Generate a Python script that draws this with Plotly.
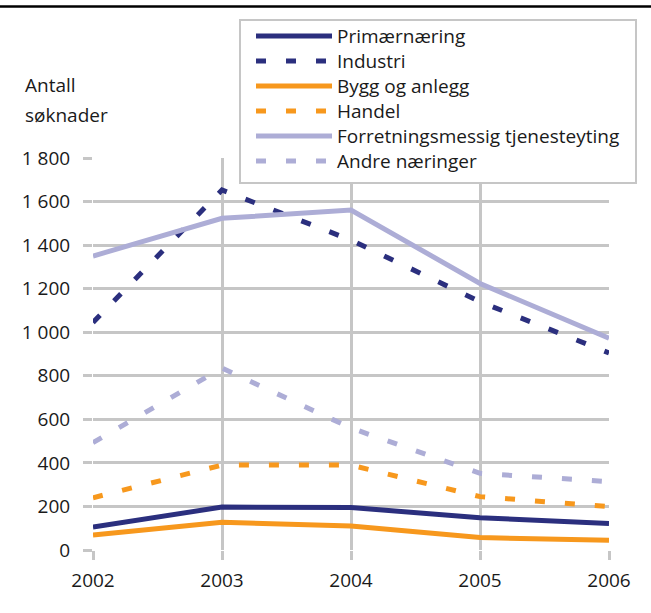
import plotly.graph_objects as go

years = [2002, 2003, 2004, 2005, 2006]

primaernaring = [105, 197, 195, 148, 122]
industri = [1045, 1653, 1423, 1140, 905]
bygg_og_anlegg = [69, 127, 110, 57, 45]
handel = [240, 390, 390, 245, 199]
forretning = [1350, 1523, 1561, 1224, 972]
andre = [493, 835, 560, 352, 314]

navy = "#2b2f7e"
orange = "#f7981d"
lavender = "#adadd6"
grid = "#c6c6c6"
dash = "10px,20px"

series = [
    ("Primærnæring", primaernaring, navy, "solid"),
    ("Industri", industri, navy, dash),
    ("Bygg og anlegg", bygg_og_anlegg, orange, "solid"),
    ("Handel", handel, orange, dash),
    ("Forretningsmessig tjenesteyting", forretning, lavender, "solid"),
    ("Andre næringer", andre, lavender, dash),
]

W, H = 651, 613
L, R, T, B = 93, 42, 158, 63
pw, ph = W - L - R, H - T - B


def px_x(p):
    return (p - L) / pw


def px_y(p):
    return (H - B - p) / ph


fig = go.Figure()
for name, vals, col, d in series:
    fig.add_trace(go.Scatter(x=years, y=vals, name=name, mode="lines",
                             line=dict(color=col, width=5, dash=d)))

# legend drawn by hand so the line samples are as long as in the original
shapes = [dict(type="line", xref="paper", yref="paper",
               x0=px_x(0), x1=px_x(W), y0=px_y(6.5), y1=px_y(6.5),
               line=dict(color="black", width=2.5)),
          dict(type="rect", xref="paper", yref="paper",
               x0=px_x(240), x1=px_x(636), y0=px_y(20), y1=px_y(183),
               fillcolor="white", line=dict(color=grid, width=2),
               layer="above")]
annotations = [
    dict(text="Antall", xref="paper", yref="paper", x=px_x(23), y=px_y(85),
         xanchor="left", yanchor="middle", showarrow=False),
    dict(text="søknader", xref="paper", yref="paper", x=px_x(23), y=px_y(115),
         xanchor="left", yanchor="middle", showarrow=False),
]
for i, (name, vals, col, d) in enumerate(series):
    yy = 36 + i * 25
    shapes.append(dict(type="line", xref="paper", yref="paper",
                       x0=px_x(256), x1=px_x(332), y0=px_y(yy), y1=px_y(yy),
                       line=dict(color=col, width=5, dash=d), layer="above"))
    annotations.append(dict(text=name, xref="paper", yref="paper",
                            x=px_x(335), y=px_y(yy), xanchor="left",
                            yanchor="middle", showarrow=False))

fig.update_layout(
    width=W, height=H,
    margin=dict(l=L, r=R, t=T, b=B),
    paper_bgcolor="white", plot_bgcolor="white",
    font=dict(family="Open Sans", size=19, color="#1a1a1a"),
    separators=", ",
    showlegend=False,
    shapes=shapes,
    annotations=annotations,
)

fig.update_xaxes(range=[2002, 2006], tickvals=years, showgrid=True,
                 gridcolor=grid, gridwidth=2.5, zeroline=False,
                 ticks="outside", ticklen=9, tickcolor=grid, tickwidth=2.5,
                 showline=False, ticklabelstandoff=4)
fig.update_yaxes(range=[0, 1800], dtick=200, tickformat=",d", showgrid=True,
                 gridcolor=grid, gridwidth=2.5, zeroline=False,
                 ticks="outside", ticklen=9, tickcolor=grid, tickwidth=2.5,
                 showline=False, ticklabelstandoff=9)

fig.write_html("out.html", config={"displayModeBar": False},
               post_script="document.body.style.margin='0';")
